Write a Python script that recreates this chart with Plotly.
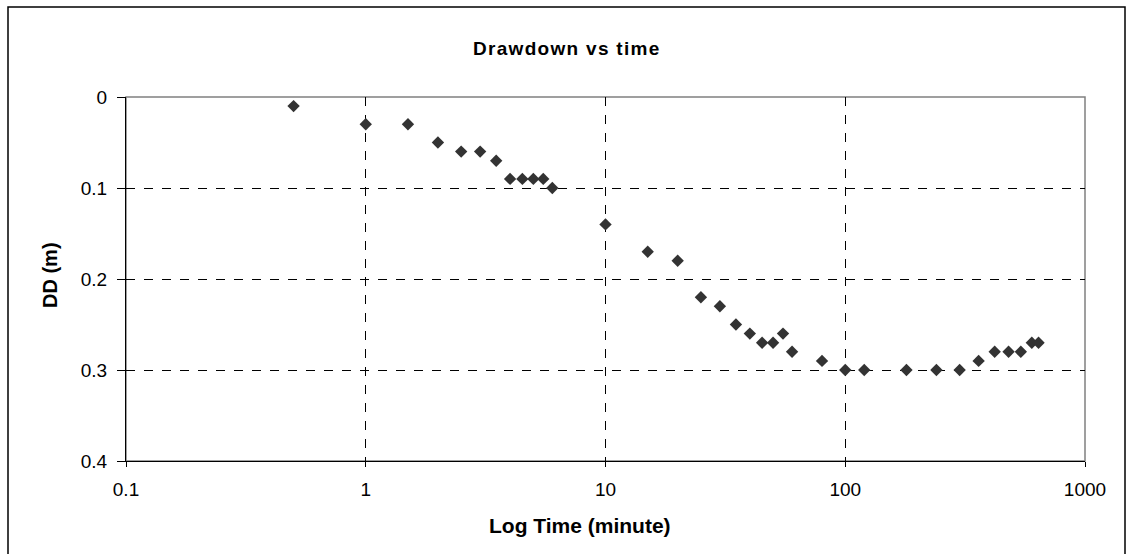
import plotly.graph_objects as go

time_min = [0.5, 1, 1.5, 2, 2.5, 3, 3.5, 4, 4.5, 5, 5.5, 6, 10, 15, 20, 25, 30, 35, 40,
            45, 50, 55, 60, 80, 100, 120, 180, 240, 300, 360, 420, 480, 540, 600, 640]
drawdown_m = [0.01, 0.03, 0.03, 0.05, 0.06, 0.06, 0.07, 0.09, 0.09, 0.09, 0.09, 0.10, 0.14,
              0.17, 0.18, 0.22, 0.23, 0.25, 0.26, 0.27, 0.27, 0.26, 0.28, 0.29, 0.30, 0.30,
              0.30, 0.30, 0.30, 0.29, 0.28, 0.28, 0.28, 0.27, 0.27]

x_ticks = [0.1, 1, 10, 100, 1000]
x_tick_text = ["0.1", "1", "10", "100", "1000"]
y_ticks = [0, 0.1, 0.2, 0.3, 0.4]
y_tick_text = ["0", "0.1", "0.2", "0.3", "0.4"]

W, H = 1127, 554
L, R, T, B = 126, 42, 97, 93
pw, ph = W - L - R, H - T - B

def px(x):
    return (x - L) / pw

def py(y):
    return (H - B - y) / ph

FONT = "Liberation Sans, Arial, sans-serif"

fig = go.Figure()
fig.add_trace(go.Scatter(
    x=time_min, y=drawdown_m, mode="markers",
    marker=dict(symbol="diamond", size=9.5, color="#333333", line=dict(width=0)),
    showlegend=False, cliponaxis=False,
))

fig.update_layout(
    width=W, height=H,
    margin=dict(l=L, r=R, t=T, b=B),
    paper_bgcolor="white", plot_bgcolor="white",
    font=dict(family=FONT, color="black", size=19),
    xaxis=dict(
        type="log", range=[-1, 3], tickvals=x_ticks, ticktext=x_tick_text,
        showgrid=True, gridcolor="black", griddash="dash", gridwidth=1,
        showline=True, linecolor="black", linewidth=1,
        ticks="outside", ticklen=5, tickcolor="black", ticklabelstandoff=6,
        zeroline=False,
    ),
    yaxis=dict(
        range=[0.4, 0], tickvals=y_ticks, ticktext=y_tick_text,
        showgrid=True, gridcolor="black", griddash="dash", gridwidth=1,
        showline=True, linecolor="black", linewidth=1,
        ticks="outside", ticklen=8, tickcolor="black", ticklabelstandoff=6,
        zeroline=False,
    ),
    annotations=[
        dict(text='<b><span style="letter-spacing:1.3px">Drawdown vs time</span></b>',
             xref="paper", yref="paper", x=px(567), y=py(48),
             xanchor="center", yanchor="middle", showarrow=False,
             font=dict(size=19, family=FONT)),
        dict(text="<b>Log Time (minute)</b>",
             xref="paper", yref="paper", x=px(580), y=py(525),
             xanchor="center", yanchor="middle", showarrow=False,
             font=dict(size=21, family=FONT)),
        dict(text="<b>DD (m)</b>", textangle=-90,
             xref="paper", yref="paper", x=px(50), y=py(275),
             xanchor="center", yanchor="middle", showarrow=False,
             font=dict(size=20, family=FONT)),
    ],
    shapes=[
        dict(type="rect", xref="paper", yref="paper", x0=0, x1=1, y0=0, y1=1,
             line=dict(color="#808080", width=1.5), fillcolor="rgba(0,0,0,0)", layer="below"),
        dict(type="rect", xref="paper", yref="paper",
             x0=px(8), x1=px(1125), y0=py(H + 5), y1=py(7),
             line=dict(color="black", width=1.5), fillcolor="rgba(0,0,0,0)", layer="above"),
    ],
)

fig.write_html("out.html")
